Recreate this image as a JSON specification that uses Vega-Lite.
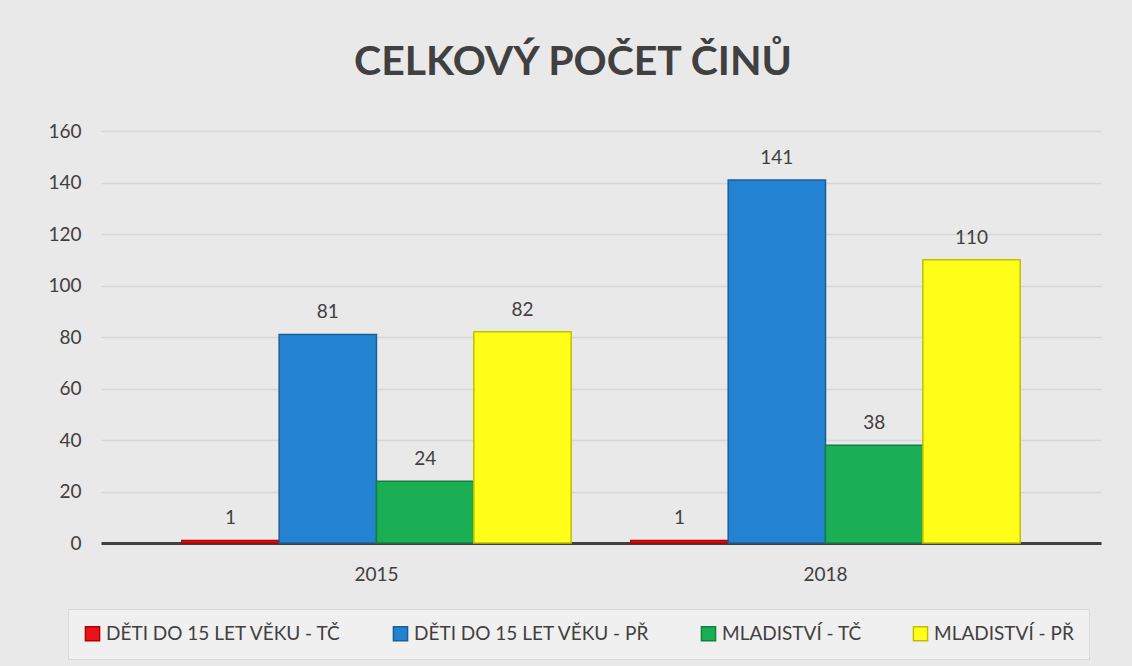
{
  "$schema": "https://vega.github.io/schema/vega-lite/v6.json",
  "width": 1000,
  "height": 412,
  "padding": {"left": 47, "right": 32, "top": 42, "bottom": 8},
  "background": "#e9e9e9",
  "title": {
    "text": "CELKOVÝ POČET ČINŮ",
    "font": "Lato",
    "fontSize": 41,
    "fontWeight": "bold",
    "color": "#404040",
    "offset": 38,
    "dx": -28
  },
  "config": {
    "view": {"stroke": null},
    "font": "Lato"
  },
  "data": {
    "values": [
      {"rok": "2015", "skupina": "DĚTI DO 15 LET VĚKU - TČ", "pocet": 1},
      {"rok": "2015", "skupina": "DĚTI DO 15 LET VĚKU - PŘ", "pocet": 81},
      {"rok": "2015", "skupina": "MLADISTVÍ - TČ", "pocet": 24},
      {"rok": "2015", "skupina": "MLADISTVÍ - PŘ", "pocet": 82},
      {"rok": "2018", "skupina": "DĚTI DO 15 LET VĚKU - TČ", "pocet": 1},
      {"rok": "2018", "skupina": "DĚTI DO 15 LET VĚKU - PŘ", "pocet": 141},
      {"rok": "2018", "skupina": "MLADISTVÍ - TČ", "pocet": 38},
      {"rok": "2018", "skupina": "MLADISTVÍ - PŘ", "pocet": 110}
    ]
  },
  "encoding": {
    "x": {
      "field": "rok",
      "type": "nominal",
      "title": null,
      "scale": {"paddingInner": 0.133, "paddingOuter": 0.18},
      "axis": {
        "labelAngle": 0,
        "labelFontSize": 19,
        "labelColor": "#404040",
        "labelPadding": 22,
        "ticks": false,
        "domainColor": "#404040",
        "domainWidth": 3
      }
    },
    "xOffset": {
      "field": "skupina",
      "type": "nominal",
      "sort": ["DĚTI DO 15 LET VĚKU - TČ", "DĚTI DO 15 LET VĚKU - PŘ", "MLADISTVÍ - TČ", "MLADISTVÍ - PŘ"]
    },
    "y": {
      "field": "pocet",
      "type": "quantitative",
      "title": null,
      "scale": {"domain": [0, 160]},
      "axis": {
        "values": [0, 20, 40, 60, 80, 100, 120, 140, 160],
        "labelFontSize": 19,
        "labelColor": "#404040",
        "labelPadding": 20,
        "domain": false,
        "ticks": false,
        "gridColor": "#d6d6d6",
        "gridWidth": 1.5
      }
    }
  },
  "layer": [
    {
      "mark": {"type": "bar", "strokeWidth": 1.5},
      "encoding": {
        "color": {
          "field": "skupina",
          "type": "nominal",
          "sort": ["DĚTI DO 15 LET VĚKU - TČ", "DĚTI DO 15 LET VĚKU - PŘ", "MLADISTVÍ - TČ", "MLADISTVÍ - PŘ"],
          "scale": {
            "domain": ["DĚTI DO 15 LET VĚKU - TČ", "DĚTI DO 15 LET VĚKU - PŘ", "MLADISTVÍ - TČ", "MLADISTVÍ - PŘ"],
            "range": ["#e8141b", "#2383d0", "#1aae55", "#ffff1a"]
          },
          "legend": {
            "title": null,
            "orient": "none",
            "legendX": -33,
            "legendY": 478,
            "direction": "horizontal",
            "columns": 4,
            "symbolType": "square",
            "symbolSize": 200,
            "symbolStrokeWidth": 1.5,
            "symbolStrokeColor": "#666666",
            "labelFontSize": 19,
            "labelLimit": 0,
            "labelColor": "#404040",
            "columnPadding": 48,
            "fillColor": "#f0f0f0",
            "strokeColor": "#d8d8d8",
            "padding": 15
          }
        },
        "stroke": {
          "field": "skupina",
          "type": "nominal",
          "scale": {
            "domain": ["DĚTI DO 15 LET VĚKU - TČ", "DĚTI DO 15 LET VĚKU - PŘ", "MLADISTVÍ - TČ", "MLADISTVÍ - PŘ"],
            "range": ["#b00000", "#1a5f99", "#138040", "#c0c000"]
          },
          "legend": null
        }
      }
    },
    {
      "mark": {"type": "text", "dy": -22, "fontSize": 19, "color": "#404040"},
      "encoding": {
        "text": {"field": "pocet", "type": "quantitative"}
      }
    }
  ]
}
